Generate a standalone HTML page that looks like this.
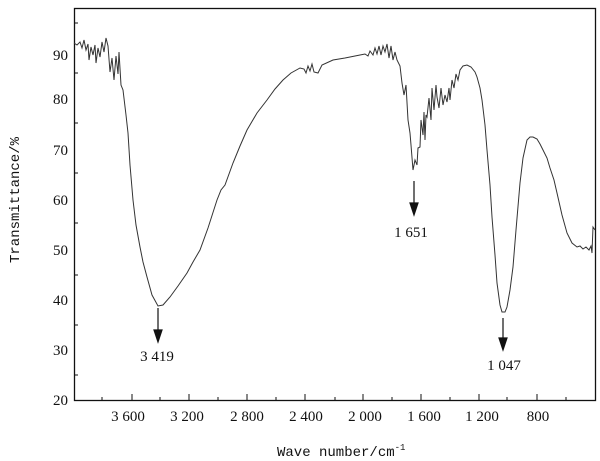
<!DOCTYPE html>
<html><head><meta charset="utf-8"><style>
html,body{margin:0;padding:0;background:#fff;}
svg{display:block;}
text{font-family:"Liberation Serif",serif;font-size:15px;fill:#111;}
.t{font-family:"Liberation Mono",monospace;font-size:14px;}
</style></head><body>
<svg width="600" height="461" viewBox="0 0 600 461" xmlns="http://www.w3.org/2000/svg">
<rect x="74.5" y="8.5" width="521" height="392" fill="none" stroke="#111" stroke-width="1.3"/>
<g stroke="#111" stroke-width="1">
<line x1="74" y1="23" x2="78" y2="23"/><line x1="74" y1="73" x2="78" y2="73"/><line x1="74" y1="123" x2="78" y2="123"/><line x1="74" y1="173" x2="78" y2="173"/><line x1="74" y1="223" x2="78" y2="223"/><line x1="74" y1="275" x2="78" y2="275"/><line x1="74" y1="325" x2="78" y2="325"/><line x1="74" y1="375" x2="78" y2="375"/>
<line x1="102" y1="400" x2="102" y2="397"/><line x1="132" y1="400" x2="132" y2="394"/><line x1="160" y1="400" x2="160" y2="397"/><line x1="189" y1="400" x2="189" y2="394"/><line x1="218" y1="400" x2="218" y2="397"/><line x1="247" y1="400" x2="247" y2="394"/><line x1="276" y1="400" x2="276" y2="397"/><line x1="305" y1="400" x2="305" y2="394"/><line x1="335" y1="400" x2="335" y2="397"/><line x1="363" y1="400" x2="363" y2="394"/><line x1="392" y1="400" x2="392" y2="397"/><line x1="421" y1="400" x2="421" y2="394"/><line x1="450" y1="400" x2="450" y2="397"/><line x1="479" y1="400" x2="479" y2="394"/><line x1="507" y1="400" x2="507" y2="397"/><line x1="537" y1="400" x2="537" y2="394"/><line x1="566" y1="400" x2="566" y2="397"/>
</g>
<g text-anchor="end">
<text x="68" y="60">90</text><text x="68" y="104">80</text><text x="68" y="155">70</text><text x="68" y="205">60</text><text x="68" y="255">50</text><text x="68" y="305">40</text><text x="68" y="355">30</text><text x="68" y="405">20</text>
</g>
<g text-anchor="middle">
<text x="128" y="421">3 600</text><text x="187" y="421">3 200</text><text x="247" y="421">2 800</text><text x="306" y="421">2 400</text><text x="365" y="421">2 000</text><text x="424" y="421">1 600</text><text x="482" y="421">1 200</text><text x="538" y="421">800</text>
<text x="157" y="361">3 419</text><text x="411" y="237">1 651</text><text x="504" y="370">1 047</text>
</g>
<text class="t" x="277" y="456">Wave number/cm<tspan font-size="9" dy="-6">-1</tspan></text>
<text class="t" text-anchor="middle" transform="translate(19,200) rotate(-90)">Transmittance/%</text>
<polyline fill="none" stroke="#333" stroke-width="1" points="74,43 77,45 80,42 82,48 84,40 86,50 88,44 89,60 91,47 93,55 95,45 96,63 98,48 100,57 102,42 104,52 106,38 108,46 110,72 112,58 114,80 116,56 118,74 119,52 121,85 123,90 126,115 128,133 130,165 133,200 136,225 140,247 143,262 147,277 152,295 158,306 163,305 170,297 178,286 187,273 193,262 200,250 208,228 217,200 221,190 225,185 233,163 240,146 247,130 257,113 267,100 275,89 283,80 291,73 300,68 304,69 306,73 308,66 310,71 312,64 314,72 318,73 322,65 333,60 345,58 360,55 365,54 368,56 370,51 373,55 375,48 377,54 379,46 381,55 383,46 385,52 387,44 389,58 391,46 393,60 395,52 397,60 400,66 402,83 404,95 406,85 408,120 410,133 411,145 413,170 415,160 417,165 418,148 420,147 421,120 423,135 424,112 425,140 426,115 427,117 429,98 431,120 432,88 434,110 436,85 437,97 439,108 441,88 443,105 445,95 447,102 449,88 450,100 452,80 454,88 456,74 458,80 460,70 463,66 467,65 471,67 475,72 477,77 480,88 482,100 485,125 487,150 490,185 492,217 495,255 497,283 500,305 502,312 505,312 507,307 510,290 513,267 516,230 520,183 523,158 527,140 530,137 533,137 537,139 540,144 543,150 547,158 550,168 554,180 557,193 562,215 567,233 572,243 577,247 580,246 583,249 586,247 589,250 591,246 592,253 593,227 595,230"/>
<g stroke="#111" stroke-width="1.2" fill="#111">
<line x1="158" y1="308" x2="158" y2="334"/><polygon points="154,330 162,330 158,342"/>
<line x1="414" y1="181" x2="414" y2="207"/><polygon points="410,203 418,203 414,215"/>
<line x1="503" y1="318" x2="503" y2="342"/><polygon points="499,338 507,338 503,350"/>
</g>
</svg>
</body></html>
